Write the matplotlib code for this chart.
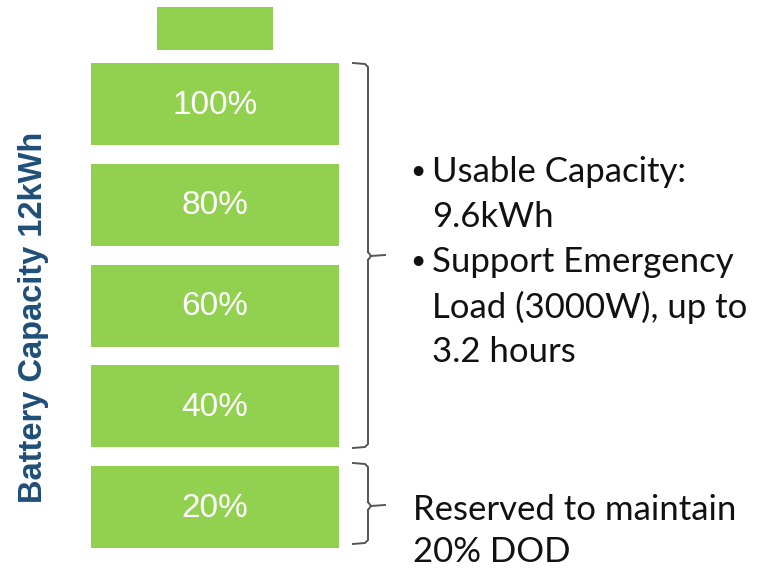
import matplotlib.pyplot as plt

# battery levels, top to bottom
levels = ["100%", "80%", "60%", "40%", "20%"]
green = "#92D050"

usable_lines = ["Usable Capacity:", "9.6kWh", "Support Emergency", "Load (3000W), up to", "3.2 hours"]
bullet_rows = [0, 2]
reserved_lines = ["Reserved to maintain", "20% DOD"]
side_label = "Battery Capacity 12kWh"

fig = plt.figure(figsize=(7.62, 5.71), dpi=100)
ax = fig.add_axes([0, 0, 1, 1])
ax.set_xlim(0, 762)
ax.set_ylim(571, 0)
ax.axis("off")

# battery terminal
ax.add_patch(plt.Rectangle((157, 7), 116, 43, color=green, lw=0))

# cells
top, step, h = 63, 100.8, 82
for i, lab in enumerate(levels):
    y = top + i * step
    ax.add_patch(plt.Rectangle((91, y), 248, h, color=green, lw=0))
    ax.text(215, y + h / 2 + 1, lab, color="white", fontsize=24,
            family="Liberation Sans", ha="center", va="center")


def bracket(y0, y1, ym):
    x, xl = 368, 353
    c = "#555555"
    ax.plot([xl, x - 3, x, x], [y0, y0 + 1, y0 + 4, ym - 4], color=c, lw=1.4)
    ax.plot([x, x, x - 3, xl], [ym + 4, y1 - 4, y1 - 1, y1], color=c, lw=1.4)
    ax.plot([x, x + 3, x + 17], [ym - 4, ym, ym - 1], color=c, lw=1.4)
    ax.plot([x, x + 3], [ym + 4, ym], color=c, lw=1.4)


bracket(63, 448, 256)
bracket(463, 544, 506)

# bullet text
for i, line in enumerate(usable_lines):
    y = 172 + i * 45
    ax.text(432, y, line, fontsize=25, family="Lato", color="#111111", va="center")
    if i in bullet_rows:
        ax.text(418, y, "•", fontsize=19, family="Lato", color="#111111",
                ha="center", va="center")

for i, line in enumerate(reserved_lines):
    ax.text(413, 510 + i * 42, line, fontsize=25, family="Lato", color="#111111", va="center")

ax.text(34, 317, side_label, rotation=90, fontsize=23.5, fontweight="bold",
        family="Liberation Sans", color="#1F4E79", ha="center", va="center")

fig.savefig("out.png", dpi=100)
